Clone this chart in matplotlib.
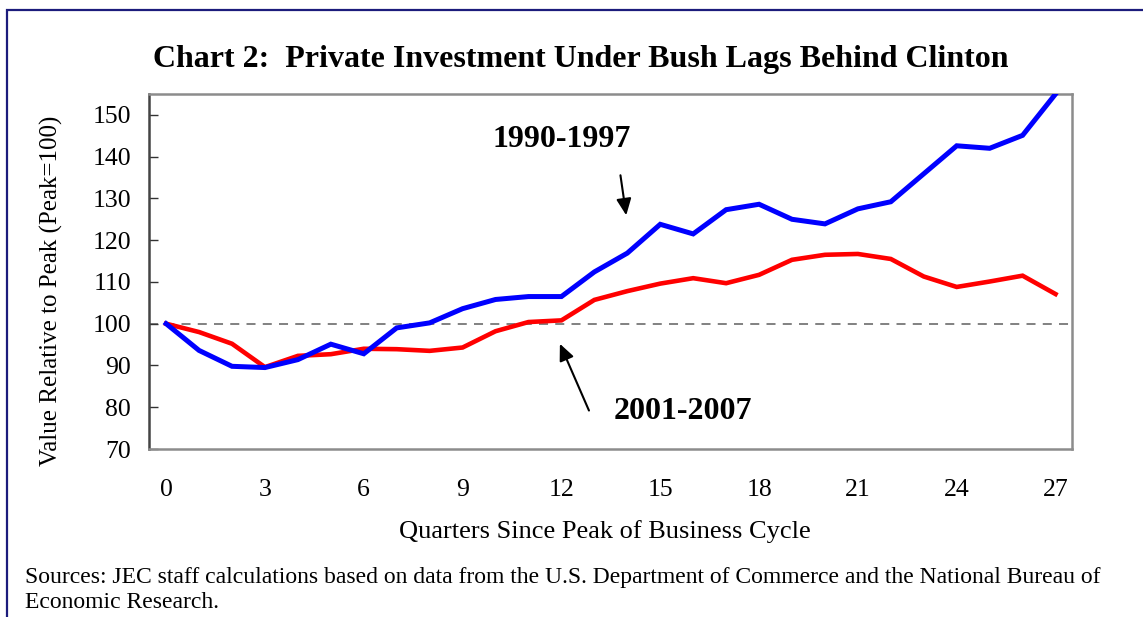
import matplotlib
matplotlib.use("Agg")
import matplotlib.pyplot as plt
from matplotlib.patches import Rectangle

plt.rcParams['font.family'] = ['Liberation Serif', 'DejaVu Serif']

# quarters since peak
quarters = list(range(28))

# 1990-1997 cycle (blue)
clinton = [100.0, 93.6, 89.8, 89.5, 91.4, 95.1, 92.8, 99.0, 100.2, 103.6,
           105.8, 106.5, 106.5, 112.4, 116.9, 123.8, 121.5, 127.3, 128.6, 125.0,
           123.9, 127.5, 129.2, 135.9, 142.6, 142.0, 145.1, 155.0]

# 2001-2007 cycle (red)
bush = [100.0, 98.0, 95.2, 89.6, 92.3, 92.7, 94.0, 93.9, 93.5, 94.3,
        98.2, 100.4, 100.8, 105.7, 107.8, 109.6, 110.9, 109.7, 111.7, 115.3,
        116.5, 116.7, 115.5, 111.3, 108.8, 110.1, 111.5, 107.1]

xticks = list(range(0, 28, 3))
yticks = list(range(70, 151, 10))

fig = plt.figure(figsize=(11.43, 6.17), dpi=100)
ax = fig.add_axes([149/1143, 1 - 449/617, (1072-149)/1143, (449-94)/617])

ax.axhline(100, color='#777777', lw=1.3, ls=(0, (5, 4)), zorder=1)
ax.plot(quarters, bush, color='#ff0000', lw=3.3, zorder=2, solid_joinstyle='miter')
ax.plot(quarters, clinton, color='#0000ff', lw=3.6, zorder=3, solid_joinstyle='miter')

ax.set_xlim(-0.52, 27.5)
ax.set_ylim(70, 155)
ax.set_xticks(xticks)
ax.set_yticks(yticks)
ax.tick_params(axis='x', length=0, pad=21.5, labelsize=18.5)
ax.tick_params(axis='y', direction='in', length=6.5, width=1, color='#333333',
               pad=13, labelsize=18.5)

for side in ['top', 'right', 'bottom']:
    ax.spines[side].set_color('#8c8c8c')
    ax.spines[side].set_linewidth(1.8)
ax.spines['left'].set_color('#444444')
ax.spines['left'].set_linewidth(1.8)

arrow = dict(arrowstyle='-|>,head_length=1.0,head_width=0.45',
             color='black', lw=1.5)
ax.annotate('', xy=(13.98, 125.3), xytext=(13.78, 136.2), arrowprops=arrow)
ax.annotate('', xy=(11.92, 95.8), xytext=(12.87, 78.6), arrowprops=arrow)
ax.text(12.02, 144.0, '1990-1997', fontsize=23, fontweight='bold',
        ha='center', va='center')
ax.text(15.7, 79.0, '2001-2007', fontsize=23, fontweight='bold',
        ha='center', va='center')

fig.text(581/1143, 1 - 60/617, 'Chart 2:  Private Investment Under Bush Lags Behind Clinton',
         fontsize=23, fontweight='bold', ha='center', va='center')
fig.text(605/1143, 1 - 532/617, 'Quarters Since Peak of Business Cycle',
         fontsize=19, ha='center', va='center')
fig.text(51/1143, 1 - 291/617, 'Value Relative to Peak (Peak=100)',
         fontsize=18, ha='center', va='center', rotation=90)
fig.text(25/1143, 1 - 578/617,
         'Sources: JEC staff calculations based on data from the U.S. Department of Commerce and the National Bureau of',
         fontsize=17, ha='left', va='center')
fig.text(25/1143, 1 - 602/617, 'Economic Research.',
         fontsize=17, ha='left', va='center')

fig.patches.append(Rectangle((7/1143, -0.05), 1.2, 1 - 10/617 + 0.05,
                             transform=fig.transFigure, fill=False,
                             edgecolor='#1c1c7c', lw=1.6))

fig.savefig('out.png', dpi=100)
